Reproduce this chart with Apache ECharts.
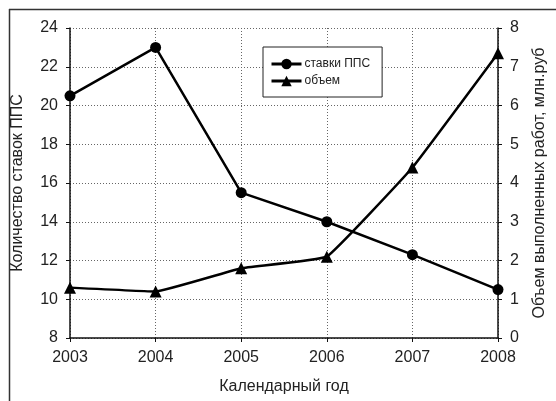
<!DOCTYPE html>
<html>
<head>
<meta charset="utf-8">
<script src="https://cdn.jsdelivr.net/npm/echarts@6/dist/echarts.min.js"></script>
<style>
  html, body { margin: 0; padding: 0; background: #fff; }
  #chart { width: 556px; height: 401px; }
</style>
</head>
<body>
<div id="chart"></div>
<script>
const years = ['2003', '2004', '2005', '2006', '2007', '2008'];
const stavkiPPS = [20.5, 23.0, 15.5, 14.0, 12.3, 10.5];
const obem = [1.3, 1.2, 1.8, 2.1, 4.4, 7.35];
const seriesNames = ['ставки ППС', 'объем'];
const leftAxisTitle = 'Количество ставок ППС';
const rightAxisTitle = 'Объем выполненных работ, млн.руб';
const xAxisTitle = 'Календарный год';

const FONT = 'Liberation Sans, Arial, sans-serif';
const TXT = '#222';

const chart = echarts.init(document.getElementById('chart'), null, { renderer: 'canvas' });
chart.setOption({
  animation: false,
  backgroundColor: '#fff',
  textStyle: { fontFamily: FONT, color: TXT },
  grid: { left: 70, right: 54, top: 28, bottom: 63, containLabel: false },
  graphic: [
    { type: 'line', shape: { x1: 9.5, y1: 9, x2: 9.5, y2: 401 }, style: { stroke: '#333', lineWidth: 1.5 } },
    { type: 'line', shape: { x1: 9, y1: 9.5, x2: 556, y2: 9.5 }, style: { stroke: '#333', lineWidth: 1.5 } }
  ],
  legend: {
    orient: 'vertical',
    left: 263,
    top: 47,
    backgroundColor: '#fff',
    borderColor: '#222',
    borderWidth: 1,
    borderRadius: 0,
    padding: [11, 12, 10, 7],
    itemWidth: 30,
    itemHeight: 13,
    itemGap: 5,
    lineStyle: { width: 3, color: '#000' },
    textStyle: { fontFamily: FONT, fontSize: 12, color: TXT, padding: [0, 0, 0, -2] },
    data: seriesNames
  },
  xAxis: {
    type: 'category',
    data: years,
    boundaryGap: false,
    name: xAxisTitle,
    nameLocation: 'middle',
    nameGap: 41,
    nameTextStyle: { fontFamily: FONT, fontSize: 16, color: TXT },
    axisLine: { lineStyle: { color: '#111', width: 1.5 } },
    axisTick: { show: true, alignWithLabel: true, length: 4, inside: false, lineStyle: { color: '#111' } },
    axisLabel: { fontFamily: FONT, fontSize: 16, color: TXT, margin: 12 },
    splitLine: { show: true, lineStyle: { color: '#666', type: [1, 2], width: 1 } }
  },
  yAxis: [
    {
      type: 'value',
      min: 8, max: 24, interval: 2,
      position: 'left',
      name: leftAxisTitle,
      nameLocation: 'middle',
      nameGap: 44,
      nameRotate: 90,
      nameTextStyle: { fontFamily: FONT, fontSize: 16, color: TXT },
      axisLine: { show: true, lineStyle: { color: '#111', width: 1.5 } },
      axisTick: { show: true, length: 4, lineStyle: { color: '#111' } },
      axisLabel: { fontFamily: FONT, fontSize: 16, color: TXT, margin: 12 },
      splitLine: { show: true, lineStyle: { color: '#666', type: [1, 2], width: 1 } }
    },
    {
      type: 'value',
      min: 0, max: 8, interval: 1,
      position: 'right',
      name: rightAxisTitle,
      nameLocation: 'middle',
      nameGap: 34,
      nameRotate: 90,
      nameTextStyle: { fontFamily: FONT, fontSize: 16, color: TXT },
      axisLine: { show: true, lineStyle: { color: '#111', width: 1.5 } },
      axisTick: { show: true, length: 4, lineStyle: { color: '#111' } },
      axisLabel: { fontFamily: FONT, fontSize: 16, color: TXT, margin: 12 },
      splitLine: { show: false }
    }
  ],
  series: [
    {
      name: seriesNames[0],
      type: 'line',
      yAxisIndex: 0,
      data: stavkiPPS,
      symbol: 'circle',
      symbolSize: 11,
      lineStyle: { color: '#000', width: 2.5 },
      itemStyle: { color: '#000' },
      z: 3
    },
    {
      name: seriesNames[1],
      type: 'line',
      yAxisIndex: 1,
      data: obem,
      symbol: 'triangle',
      symbolSize: 12,
      smooth: 0.08,
      lineStyle: { color: '#000', width: 2.5 },
      itemStyle: { color: '#000' },
      z: 3
    }
  ]
});
</script>
</body>
</html>
